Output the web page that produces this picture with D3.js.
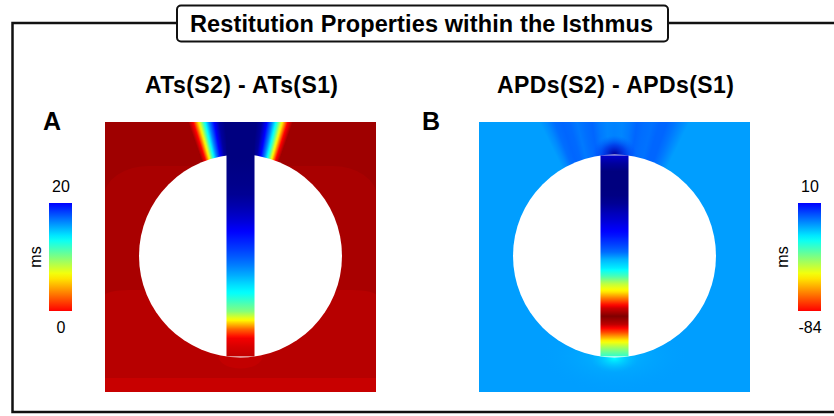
<!DOCTYPE html>
<html>
<head>
<meta charset="utf-8">
<script src="https://cdn.jsdelivr.net/npm/d3@7"></script>
<style>
  html, body { margin: 0; padding: 0; background: #fff; }
  svg { display: block; font-family: Arial, "Liberation Sans", Helvetica, sans-serif; }
</style>
</head>
<body>
<svg id="fig" width="834" height="416"></svg>
<script>
// ---- values in ms ----

// A: ATs(S2) - ATs(S1)
const atRange = [0, 20];
// down the isthmus, from the top edge of the sheet to the bottom of the hole
const atIsthmus = [23.3, 23.3, 23.3, 23.3, 23.3, 23.2, 23.1, 23.0, 22.8, 22.3, 21.7, 21.0, 20.1, 19.3,
                   18.5, 17.6, 16.6, 15.5, 14.3, 13.2, 11.6, 9.9, 6.5, 2.6, -0.3, -1.1, -1.6];
// across the wave fanning out of the top of the isthmus (left -> right)
const atPlume = [-2.6, 0, 6, 12, 16.5, 20, 22.5, 23.3, 23.3, 23.3, 23.3,
                 23.3, 23.3, 23.3, 22.5, 20, 16.5, 12, 6, 0, -2.6];
// flat bands of the sheet, top -> bottom, and where each band begins (fraction of sheet height)
const atBands = [-2.5, -2.23, -1.87, -1.44];
const atBandTops = [0, 0.163, 0.622, 0.948];
const atExit = -1.6;

// B: APDs(S2) - APDs(S1)
const apdRange = [-84, 10];
// down the isthmus, from the top of the hole to its bottom
const apdIsthmus = [16, 22, 25.7, 25.7, 25.7, 25, 23, 19, 15.5, 11.5, 7.5, 2.5, -3, -12.5,
                    -19, -30, -45, -56, -73, -90, -99.5, -92, -75, -55, -40, -27];
const apdPlume = [-9.4, -7, -3.5, -2.5, -3, -5, -3.5, -2.5, -5, -6.5, -6,
                  -6.5, -5, -2.5, -3.5, -4, -2.5, -2.5, -4.5, -7, -9.4];
const apdBackground = -9.4;
const apdCap = [22, 15, 2];           // blob over the top of the isthmus, centre -> rim
const apdExitGlow = [-21, -17, -13];  // just below the isthmus
const apdExitSpread = [-13, -11, -9.4];

// ---- layout ----
const SHEET = { top: 122, size: 271, height: 270 };
const HOLE = { cx: 0.5, cy: 0.496, r: 0.3745 };
const NECK = 0.0517; // isthmus half width

const jetColors = ['#00007f', '#0000ff', '#00ffff', '#ffff00', '#ff0000', '#7f0000'];
function jetScale([lo, hi]) {
  // colour bar covers blue (hi) .. red (lo); the dark ends of jet sit outside it
  const step = (hi - lo) / 3;
  return d3.scaleLinear()
    .domain([hi + step / 2, hi, hi - step, hi - 2 * step, lo, lo - step / 2])
    .range(jetColors)
    .clamp(true);
}

const svg = d3.select('#fig');
const defs = svg.append('defs');

function profileGradient(id, values, color, vertical) {
  const g = defs.append('linearGradient').attr('id', id)
    .attr('x1', 0).attr('y1', 0)
    .attr('x2', vertical ? 0 : 1).attr('y2', vertical ? 1 : 0);
  const at = d3.scaleLinear().domain([0, values.length - 1]);
  const stops = [];
  values.forEach((v, i) => {
    if (i > 0) {
      // extra stops so the browser does not cut across the jet corners
      const lerp = d3.interpolateNumber(values[i - 1], v);
      [0.25, 0.5, 0.75].forEach(k => stops.push([at(i - 1 + k), color(lerp(k))]));
    }
    stops.push([at(i), color(v)]);
  });
  g.selectAll('stop').data(stops).join('stop')
    .attr('offset', d => d[0])
    .attr('stop-color', d => d[1]);
  return `url(#${id})`;
}

function fan(g, id, values, color, cx, y0, y1, w0, w1) {
  const fill = profileGradient(id, values, color, false);
  const half = d3.scaleLinear().domain([y0, y1]).range([w0, w1]);
  g.append('g').attr('shape-rendering', 'crispEdges')
    .selectAll('rect').data(d3.range(y0, y1)).join('rect')
    .attr('x', r => cx - half(r))
    .attr('y', r => r)
    .attr('width', r => 2 * half(r))
    .attr('height', 1)
    .attr('fill', fill);
}

function glow(g, id, values, color, cx, cy, rx, ry) {
  const grad = defs.append('radialGradient').attr('id', id);
  const at = d3.scaleLinear().domain([0, values.length - 1]);
  grad.selectAll('stop').data(values).join('stop')
    .attr('offset', (d, i) => at(i))
    .attr('stop-color', d => color(d))
    .attr('stop-opacity', (d, i) => 1 - at(i));
  g.append('ellipse')
    .attr('cx', cx).attr('cy', cy).attr('rx', rx).attr('ry', ry)
    .attr('fill', `url(#${id})`);
}

function colorBar(g, id, range, color, left, labelX) {
  const top = 203, h = 108, w = 23;
  const val = d3.scaleLinear().domain([0, 1]).range([range[1], range[0]]);
  const grad = defs.append('linearGradient').attr('id', id)
    .attr('x1', 0).attr('y1', 0).attr('x2', 0).attr('y2', 1);
  grad.selectAll('stop').data(d3.range(0, 1.0001, 0.05)).join('stop')
    .attr('offset', d => d)
    .attr('stop-color', d => color(val(d)));
  g.append('rect').attr('x', left).attr('y', top).attr('width', w).attr('height', h)
    .attr('fill', `url(#${id})`);
  const cx = left + w / 2 + 0.5;
  g.append('text').attr('x', cx).attr('y', 192).attr('text-anchor', 'middle')
    .attr('font-size', 16).text(range[1]);
  g.append('text').attr('x', cx).attr('y', 333).attr('text-anchor', 'middle')
    .attr('font-size', 16).text(range[0]);
  g.append('text')
    .attr('transform', `translate(${labelX},${top + h / 2}) rotate(-90)`)
    .attr('text-anchor', 'middle').attr('font-size', 16).text('ms');
}

function sheet(key, left) {
  const x = d3.scaleLinear().domain([0, 1]).range([left, left + SHEET.size]);
  const y = d3.scaleLinear().domain([0, 1]).range([SHEET.top, SHEET.top + SHEET.height]);
  defs.append('clipPath').attr('id', 'clip' + key)
    .append('rect').attr('x', x(0)).attr('y', y(0))
    .attr('width', SHEET.size).attr('height', SHEET.height);
  const g = svg.append('g').attr('clip-path', `url(#clip${key})`);
  const r = HOLE.r * SHEET.size;
  const cx = x(HOLE.cx), cy = y(HOLE.cy);
  const dy = Math.sqrt(r * r - (NECK * SHEET.size) ** 2);
  return { g, x, y, cx, cy, r, neckTop: cy - dy, neckBottom: cy + dy };
}

function hole(s) {
  s.g.append('circle').attr('cx', s.cx).attr('cy', s.cy).attr('r', s.r).attr('fill', '#fff');
}

function isthmus(s, id, values, color, y0) {
  s.g.append('rect')
    .attr('x', s.x(HOLE.cx - NECK)).attr('y', y0)
    .attr('width', s.x(HOLE.cx + NECK) - s.x(HOLE.cx - NECK))
    .attr('height', s.neckBottom - y0)
    .attr('fill', profileGradient(id, values, color, true));
}

// ---- frame and title ----
const frame = svg.append('g').attr('fill', 'none').attr('stroke', '#111').attr('stroke-width', 2.5);
frame.append('path').attr('d', 'M 177 23 H 12.5 V 412 H 840');
frame.append('path').attr('d', 'M 668 23 H 840');
svg.append('rect').attr('x', 177).attr('y', 5.5).attr('width', 491).attr('height', 36)
  .attr('rx', 4).attr('fill', '#fff').attr('stroke', '#111').attr('stroke-width', 2);
svg.append('text').attr('x', 190).attr('y', 31.5).attr('font-size', 23.5).attr('font-weight', 'bold')
  .attr('textLength', 463).attr('lengthAdjust', 'spacing')
  .text('Restitution Properties within the Isthmus');

// ---- panel A ----
const colorA = jetScale(atRange);
const sA = sheet('A', 105);
const bandCorner = [[0, 0], [45, 31], [25, 6], [0, 0]];
atBands.forEach((v, i) => {
  const yt = sA.y(atBandTops[i]), yb = sA.y(1) + 1;
  const x0 = sA.x(0) - 1, x1 = sA.x(1) + 1;
  const [rx, ry] = bandCorner[i];
  const d = rx
    ? `M${x0},${yb} V${yt + ry} A${rx},${ry} 0 0 1 ${x0 + rx},${yt} H${x1 - rx} A${rx},${ry} 0 0 1 ${x1},${yt + ry} V${yb} Z`
    : `M${x0},${yb} V${yt} H${x1} V${yb} Z`;
  sA.g.append('path').attr('d', d).attr('fill', colorA(v));
});
fan(sA.g, 'plumeA', atPlume, colorA, sA.cx, 122, 172, 52.5, 34.6);
sA.g.append('ellipse').attr('cx', sA.cx).attr('cy', sA.neckBottom).attr('rx', 22).attr('ry', 12)
  .attr('fill', colorA(atExit));
hole(sA);
isthmus(sA, 'neckA', atIsthmus, colorA, sA.y(0));

// ---- panel B ----
const colorB = jetScale(apdRange);
const sB = sheet('B', 479);
sB.g.append('rect').attr('x', sB.x(0)).attr('y', sB.y(0))
  .attr('width', SHEET.size).attr('height', SHEET.height).attr('fill', colorB(apdBackground));
fan(sB.g, 'plumeB', apdPlume, colorB, sB.cx, 122, 172, 75, 50);
glow(sB.g, 'capB', apdCap, colorB, sB.cx, sB.neckTop - 1, 22, 19);
glow(sB.g, 'spreadB', apdExitSpread, colorB, sB.cx, sB.neckBottom, 75, 36);
glow(sB.g, 'exitB', apdExitGlow, colorB, sB.cx, sB.neckBottom + 2, 24, 14);
hole(sB);
isthmus(sB, 'neckB', apdIsthmus, colorB, sB.neckTop);

// ---- titles, letters, colour bars ----
const labels = svg.append('g').attr('fill', '#000');
labels.append('text').attr('x', 241.5).attr('y', 93).attr('text-anchor', 'middle')
  .attr('font-size', 23).attr('font-weight', 'bold')
  .attr('textLength', 193).attr('lengthAdjust', 'spacing').text('ATs(S2) - ATs(S1)');
labels.append('text').attr('x', 615.5).attr('y', 93).attr('text-anchor', 'middle')
  .attr('font-size', 23).attr('font-weight', 'bold')
  .attr('textLength', 237).attr('lengthAdjust', 'spacing').text('APDs(S2) - APDs(S1)');
labels.append('text').attr('x', 43).attr('y', 130).attr('font-size', 25).attr('font-weight', 'bold').text('A');
labels.append('text').attr('x', 422).attr('y', 130).attr('font-size', 25).attr('font-weight', 'bold').text('B');

colorBar(labels, 'barA', atRange, colorA, 49, 40.5);
colorBar(labels, 'barB', apdRange, colorB, 798, 787.5);
</script>
</body>
</html>
